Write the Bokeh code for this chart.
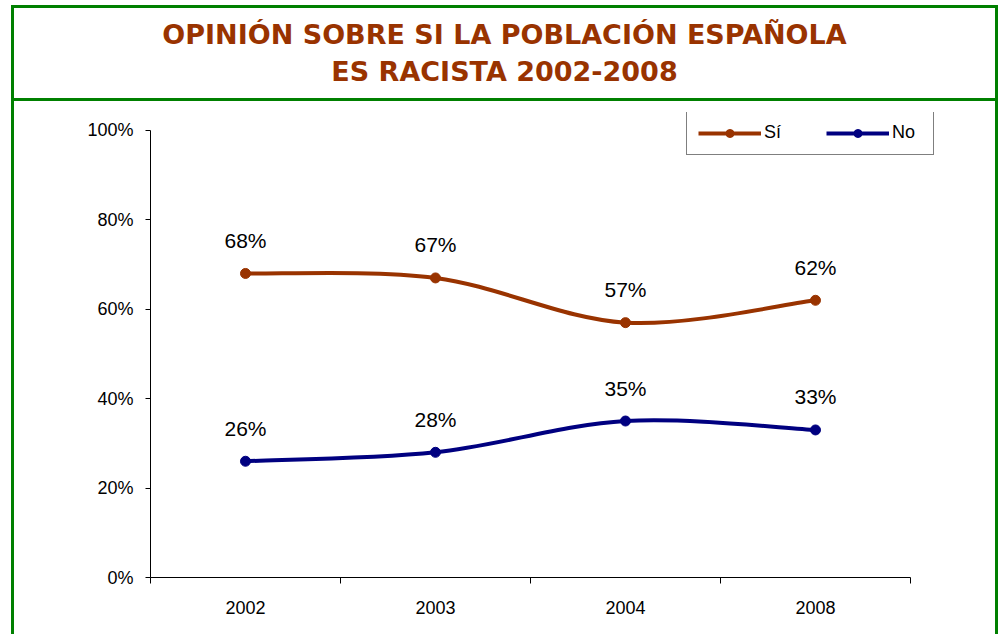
from bokeh.plotting import figure
from bokeh.models import Div, FixedTicker, Range1d, Legend, LegendItem, ColumnDataSource
from bokeh.layouts import column
from bokeh.embed import file_html
from bokeh.resources import INLINE
from bokeh.core.properties import value

years = ["2002", "2003", "2004", "2008"]
si = [68, 67, 57, 62]
no = [26, 28, 35, 33]
y_ticks = [0, 20, 40, 60, 80, 100]
title_lines = ["OPINIÓN SOBRE SI LA POBLACIÓN ESPAÑOLA", "ES RACISTA 2002-2008"]
series_names = ["Sí", "No"]

SI_COLOR = "#993300"
NO_COLOR = "#000080"
GREEN = "#008000"
FONT = "Liberation Sans"

xs = [i + 0.5 for i in range(len(years))]

# y range runs a little above 100% so the legend (above the 100% line) fits in the frame
p = figure(width=981, height=533, x_range=Range1d(0, len(years) + 0.158), y_range=Range1d(0, 104),
           output_backend="svg", toolbar_location=None,
           min_border_left=136, min_border_right=55, min_border_top=11, min_border_bottom=57)
p.outline_line_color = None
p.xgrid.visible = False
p.ygrid.visible = False
p.background_fill_color = "white"
p.border_fill_color = "white"

# y axis
p.yaxis.bounds = (0, 100)
p.yaxis.ticker = FixedTicker(ticks=y_ticks, minor_ticks=[])
p.yaxis.major_label_overrides = {t: f"{t}%" for t in y_ticks}
p.yaxis.major_tick_out = 5
p.yaxis.major_tick_in = 0
p.yaxis.minor_tick_out = 0
p.yaxis.major_label_standoff = 12
p.yaxis.major_label_text_font = FONT
p.yaxis.major_label_text_font_size = "18px"
p.yaxis.major_label_text_color = "black"
p.yaxis.axis_line_color = "black"

# x axis
p.xaxis.bounds = (0, len(years))
p.xaxis.ticker = FixedTicker(ticks=xs, minor_ticks=list(range(len(years) + 1)))
p.xaxis.major_label_overrides = {x: y for x, y in zip(xs, years)}
p.xaxis.major_tick_out = 0
p.xaxis.major_tick_in = 0
p.xaxis.minor_tick_out = 6
p.xaxis.minor_tick_in = 0
p.xaxis.minor_tick_line_color = "black"
p.xaxis.major_label_standoff = 17
p.xaxis.major_label_text_font = FONT
p.xaxis.major_label_text_font_size = "18px"
p.xaxis.major_label_text_color = "black"
p.xaxis.axis_line_color = "black"


def smooth_segments(xv, yv):
    n = len(xv)
    d = dict(x0=[], y0=[], x1=[], y1=[], cx0=[], cy0=[], cx1=[], cy1=[])
    for i in range(n - 1):
        ip = max(i - 1, 0)
        inn = min(i + 2, n - 1)
        d["x0"].append(xv[i]); d["y0"].append(yv[i])
        d["x1"].append(xv[i + 1]); d["y1"].append(yv[i + 1])
        d["cx0"].append(xv[i] + (xv[i + 1] - xv[ip]) / 6)
        d["cy0"].append(yv[i] + (yv[i + 1] - yv[ip]) / 6)
        d["cx1"].append(xv[i + 1] - (xv[inn] - xv[i]) / 6)
        d["cy1"].append(yv[i + 1] - (yv[inn] - yv[i]) / 6)
    return ColumnDataSource(d)


items = []
for name, vals, col in [(series_names[0], si, SI_COLOR), (series_names[1], no, NO_COLOR)]:
    bz = p.bezier(x0="x0", y0="y0", x1="x1", y1="y1", cx0="cx0", cy0="cy0", cx1="cx1", cy1="cy1",
                  source=smooth_segments(xs, vals), line_color=col, line_width=4)
    sc = p.scatter(xs, vals, size=10, marker="circle", fill_color=col, line_color=col)
    p.text(xs, vals, text=[f"{v}%" for v in vals], y_offset=-33, text_align="center",
           text_baseline="middle", text_font=value(FONT), text_font_size="21px", text_color="black")
    items.append(LegendItem(label=name, renderers=[bz, sc]))

legend = Legend(items=items, location=(536, 422), orientation="horizontal",
                glyph_width=63, glyph_height=20, label_standoff=3, spacing=32,
                padding=11, margin=0, label_width=30, label_height=20,
                label_text_font=FONT, label_text_font_size="18px", label_text_color="black",
                border_line_color="black", border_line_width=1, background_fill_color="white",
                background_fill_alpha=1)
p.add_layout(legend)

title_html = (
    '<div style="width:981px;height:93px;box-sizing:border-box;border-bottom:3px solid %s;'
    'text-align:center;padding-top:8px;font-family:\'DejaVu Sans\';'
    'font-weight:bold;font-size:27px;line-height:37px;color:%s;">%s</div>'
    % (GREEN, SI_COLOR, "<br>".join(title_lines))
)
title_div = Div(text=title_html, width=981, height=93, margin=0)

layout = column(title_div, p, spacing=0, margin=(5, 0, 0, 11),
                styles={"border": "3px solid %s" % GREEN, "border-bottom": "none", "background": "white"})

open("out.html", "w").write(file_html(layout, INLINE))
